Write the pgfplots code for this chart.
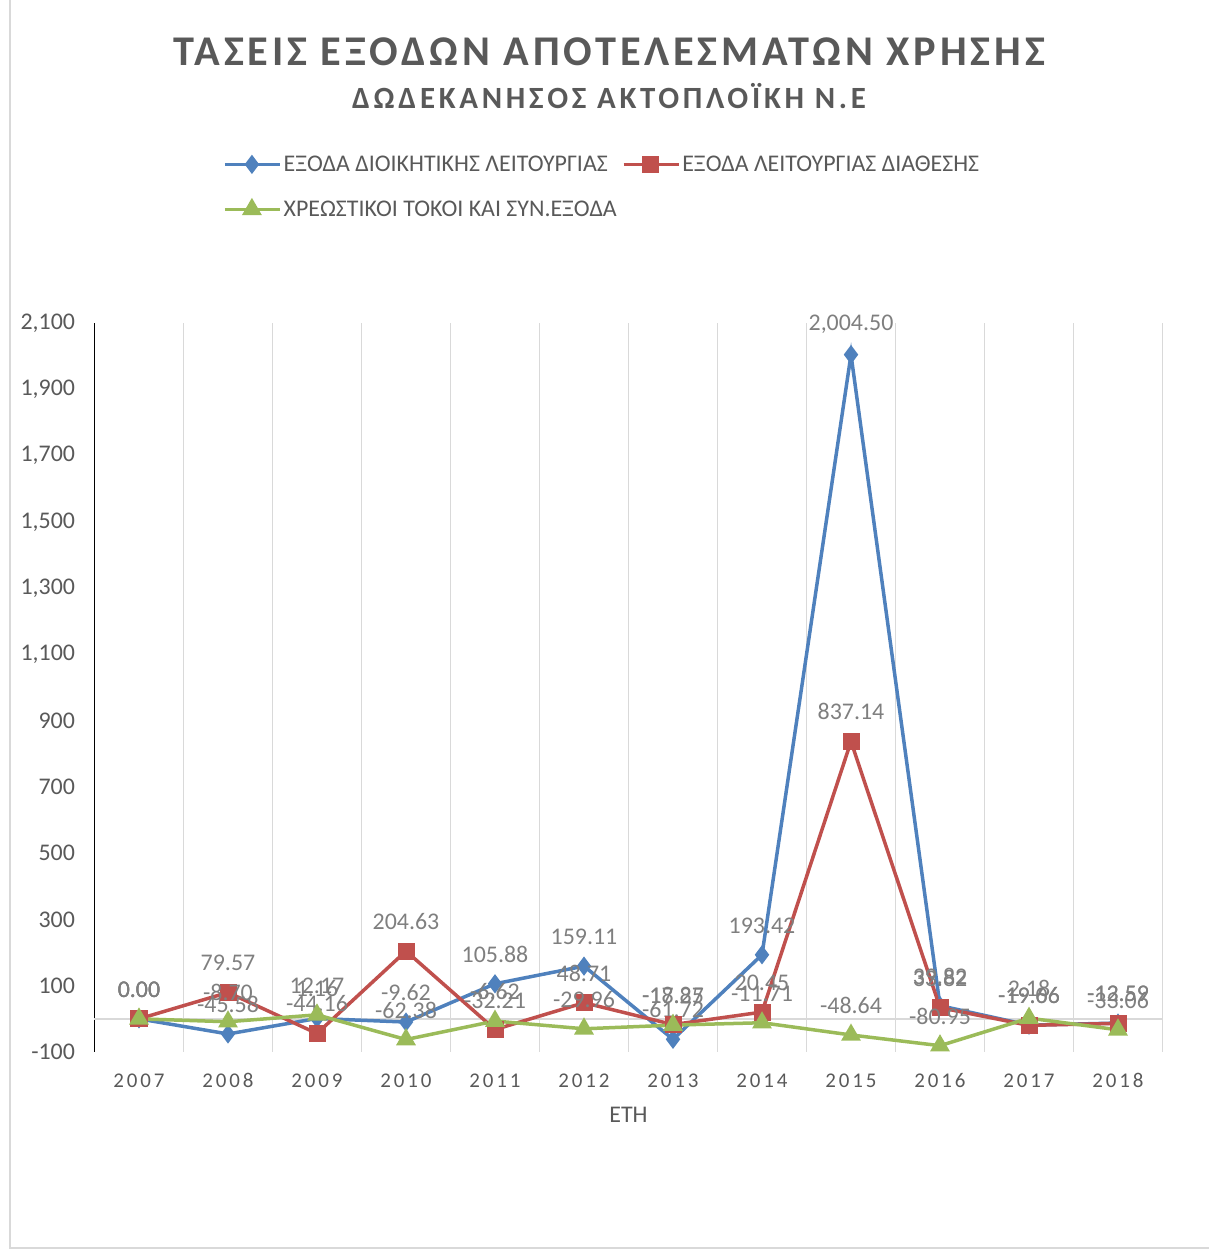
\documentclass[border=0pt]{standalone}
\usepackage{fontspec}
\setmainfont{Carlito}
\newfontfamily\titlefont[LetterSpace=9]{Carlito}
\newfontfamily\subfont[LetterSpace=12]{Carlito}
\newfontfamily\tickfont[LetterSpace=14]{Carlito}
\usepackage{pgfplots}
\pgfplotsset{compat=1.18}
\definecolor{cblue}{HTML}{4F81BD}
\definecolor{cred}{HTML}{C0504D}
\definecolor{cgreen}{HTML}{9BBB59}
\definecolor{txt}{HTML}{595959}
\definecolor{lbl}{HTML}{7F7F7F}
\definecolor{gridc}{HTML}{D9D9D9}
\pgfplotstableread{
x a b c
0 0.00 0.00 0.00
1 -45.58 79.57 -8.70
2 1.16 -44.16 12.17
3 -9.62 204.63 -62.38
4 105.88 -32.21 -6.62
5 159.11 48.71 -29.96
6 -61.72 -17.27 -18.85
7 193.42 20.45 -11.71
8 2004.50 837.14 -48.64
9 39.82 33.82 -80.95
10 -19.06 -19.66 2.18
11 -12.59 -13.59 -33.06
}\data
\begin{document}
\begin{tikzpicture}[x=1bp,y=1bp]
\begin{scope}[xshift=-94.5bp, yshift=-198bp]
\path[use as bounding box] (0,0) rectangle (1209,1250);
\draw[gridc, line width=1.5bp] (10,1260) -- (10,2) -- (1220,2);
\node[txt, font=\titlefont\bfseries\fontsize{42.5}{48}\selectfont] at (609,1198) {ΤΑΣΕΙΣ ΕΞΟΔΩΝ ΑΠΟΤΕΛΕΣΜΑΤΩΝ ΧΡΗΣΗΣ};
\node[txt, font=\subfont\bfseries\fontsize{31}{36}\selectfont] at (609,1154) {ΔΩΔΕΚΑΝΗΣΟΣ ΑΚΤΟΠΛΟΪΚΗ Ν.Ε};
\end{scope}
\begin{axis}[
  width=1068bp, height=729bp, scale only axis,
  xmin=-0.5, xmax=11.5, ymin=-100, ymax=2100,
  axis lines*=left,
  x axis line style={draw=none},
  y axis line style={black, line width=1.5bp},
  xtick={0,...,11},
  xticklabels={2007,2008,2009,2010,2011,2012,2013,2014,2015,2016,2017,2018},
  xticklabel style={font=\tickfont\fontsize{21}{24}\selectfont, text=txt, yshift=-18bp},
  minor xtick={0.5,1.5,...,11.5},
  xminorgrids,
  minor grid style={gridc, line width=1.5bp},
  ytick={-100,100,...,2100},
  yticklabel style={font=\fontsize{24}{28}\selectfont, text=txt, xshift=-16bp},
  /pgf/number format/assume math mode=true,
  y tick label style={/pgf/number format/.cd, fixed, 1000 sep={,}},
  major tick length=0pt, minor tick length=0pt,
  xlabel={ΕΤΗ},
  xlabel style={font=\fontsize{24}{28}\selectfont, text=txt, yshift=-12bp},
  clip=false,
  nodes near coords,
  nodes near coords align={above},
  every node near coord/.append style={font=\fontsize{24}{28}\selectfont, text=lbl, yshift=17bp,
     /pgf/number format/.cd, fixed, fixed zerofill, precision=2, 1000 sep={,}, assume math mode=true},
  legend columns=2,
  legend cell align=left,
  legend style={draw=none, fill=none, at={(0.1175,1.235)}, anchor=north west,
     font=\fontsize{24}{28}\selectfont, text=txt, row sep=24bp,
     /tikz/every even column/.append style={column sep=3bp}},
  legend image code/.code={\draw[#1, mark repeat=2, mark phase=2] plot coordinates {(0bp,0bp) (27bp,0bp) (55bp,0bp)};},
]
\draw[gridc, line width=1.5bp] (axis cs:-0.5,0) -- (axis cs:11.5,0);
\addplot[cblue, line width=3.5bp, mark=diamond*, mark size=8bp, mark options={solid, line width=2bp}] table[x=x,y=a] {\data};
\addlegendentry{ΕΞΟΔΑ ΔΙΟΙΚΗΤΙΚΗΣ ΛΕΙΤΟΥΡΓΙΑΣ}
\addplot[cred, line width=3.5bp, mark=square*, mark size=7.5bp, mark options={solid, line width=2bp}] table[x=x,y=b] {\data};
\addlegendentry{ΕΞΟΔΑ ΛΕΙΤΟΥΡΓΙΑΣ ΔΙΑΘΕΣΗΣ}
\addplot[cgreen, line width=3.5bp, mark=triangle*, mark size=9.5bp, mark options={solid, line width=2bp}] table[x=x,y=c] {\data};
\addlegendentry{ΧΡΕΩΣΤΙΚΟΙ ΤΟΚΟΙ ΚΑΙ ΣΥΝ.ΕΞΟΔΑ}
\end{axis}
\end{tikzpicture}
\end{document}
